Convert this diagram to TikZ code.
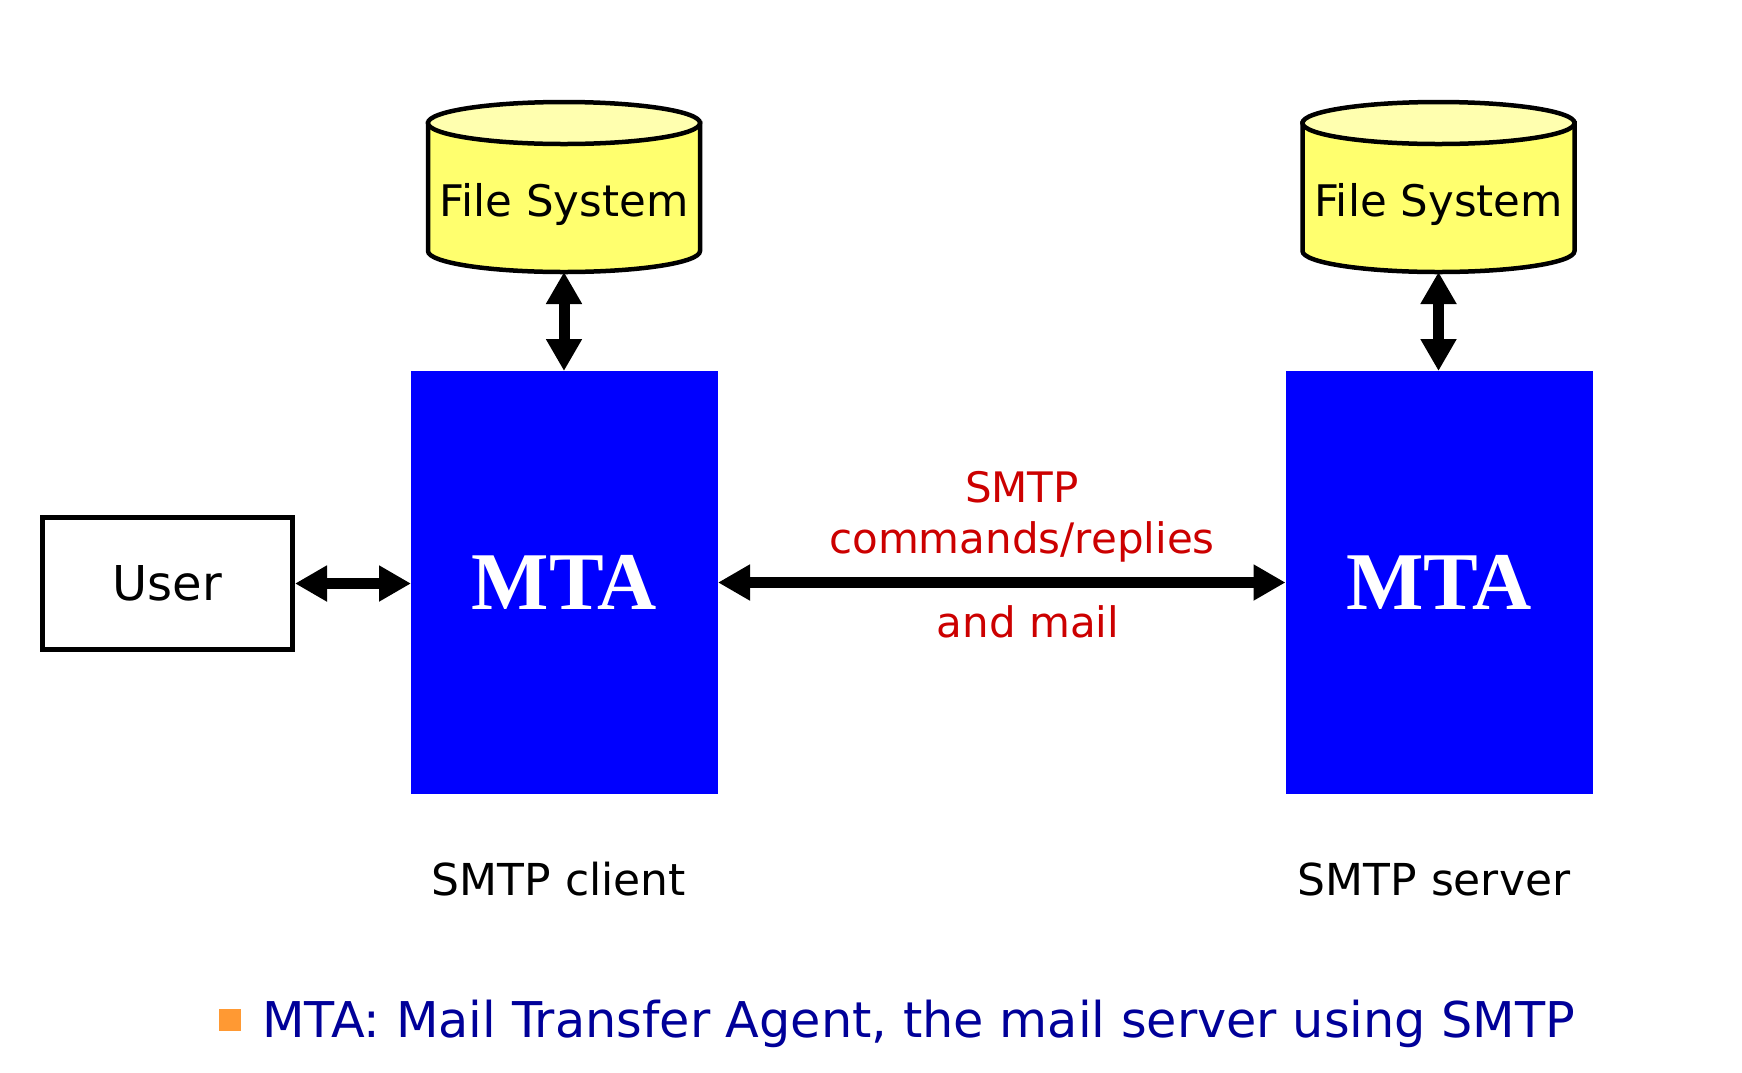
\documentclass[tikz,border=0pt]{standalone}
\usepackage{fontspec}
\setmainfont{DejaVu Sans}
\newfontfamily\mtaserif{Liberation Serif}
\usetikzlibrary{arrows.meta,calc}
\definecolor{mtablue}{RGB}{0,0,255}
\definecolor{fsbody}{RGB}{255,255,110}
\definecolor{fstop}{RGB}{255,255,175}
\definecolor{smtpred}{RGB}{204,0,0}
\definecolor{notenavy}{RGB}{0,0,153}
\definecolor{bulletorange}{RGB}{255,153,51}
\tikzset{
  mtabox/.style={fill=mtablue, minimum width=307pt, minimum height=423pt, inner sep=0pt, outer sep=0pt, text=white, font=\mtaserif\bfseries\fontsize{82}{82}\selectfont},
  userbox/.style={draw, line width=5pt, minimum width=250pt, minimum height=132pt, inner sep=0pt, font=\fontsize{48}{48}\selectfont},
  fsarea/.style={minimum width=272pt, minimum height=170pt, inner sep=0pt, outer sep=0pt},
  cylline/.style={draw=black, line width=4.5pt},
  fstext/.style={anchor=base, inner sep=0pt, font=\fontsize{43.5}{43.5}\selectfont},
  redlbl/.style={anchor=base, inner sep=0pt, text=smtpred, font=\fontsize{42}{42}\selectfont},
  rolelbl/.style={anchor=base, inner sep=0pt, font=\fontsize{44}{44}\selectfont},
  notetext/.style={anchor=base west, inner sep=0pt, text=notenavy, font=\fontsize{49.3}{49.3}\selectfont},
  bigarrow/.style={line width=11pt, {Triangle[length=32pt,width=34pt]}-{Triangle[length=32pt,width=34pt]}}
}
\begin{document}
\begin{tikzpicture}[x=1pt,y=-1pt]
\fill[white] (0,0) rectangle (1742,1072);
\useasboundingbox (0,0) rectangle (1742,1072);

% MTA boxes
\node[mtabox] (mta1) at (564.5,582.5) {MTA};
\node[mtabox] (mta2) at (1439,582.5) {MTA};

% File system cylinders
\foreach \n/\cx in {fs1/564, fs2/1438.5}{
  \node[fsarea] (\n) at (\cx,187) {};
  \draw[cylline, fill=fsbody] ($(\n.north west)+(0,21)$) -- ($(\n.south west)+(0,-21)$)
     arc[start angle=180, end angle=360, x radius=136pt, y radius=21pt]
     -- ($(\n.north east)+(0,21)$) -- cycle;
  \draw[cylline, fill=fstop] ($(\n.north)+(0,21)$) ellipse[x radius=136pt, y radius=21pt];
}
\node[fstext] (fs1t) at (564,216) {File System};
\node[fstext] (fs2t) at (1438.5,216) {File System};

% User
\node[userbox] (user) at (167.5,583.5) {User};

% Arrows
\draw[bigarrow] (user.east) -- (user.east -| mta1.west);
\draw[bigarrow] (mta1.east) -- (mta2.west);
\draw[bigarrow] (fs1.south) -- (fs1.south |- mta1.north);
\draw[bigarrow] (fs2.south) -- (fs2.south |- mta2.north);

% Red labels
\node[redlbl] (lblsmtp) at (1022,502) {SMTP};
\node[redlbl] (lblcmd) at (1022,553) {commands/replies};
\node[redlbl] (lblmail) at (1028,637) {and mail};

% Role labels
\node[rolelbl] (client) at (559,895) {SMTP client};
\node[rolelbl] (server) at (1434,895) {SMTP server};

% Note
\node[fill=bulletorange, minimum size=22pt, inner sep=0pt] (bullet) at (230,1020) {};
\node[notetext] (note) at (262,1037) {MTA: Mail Transfer Agent, the mail server using SMTP};
\end{tikzpicture}
\end{document}
